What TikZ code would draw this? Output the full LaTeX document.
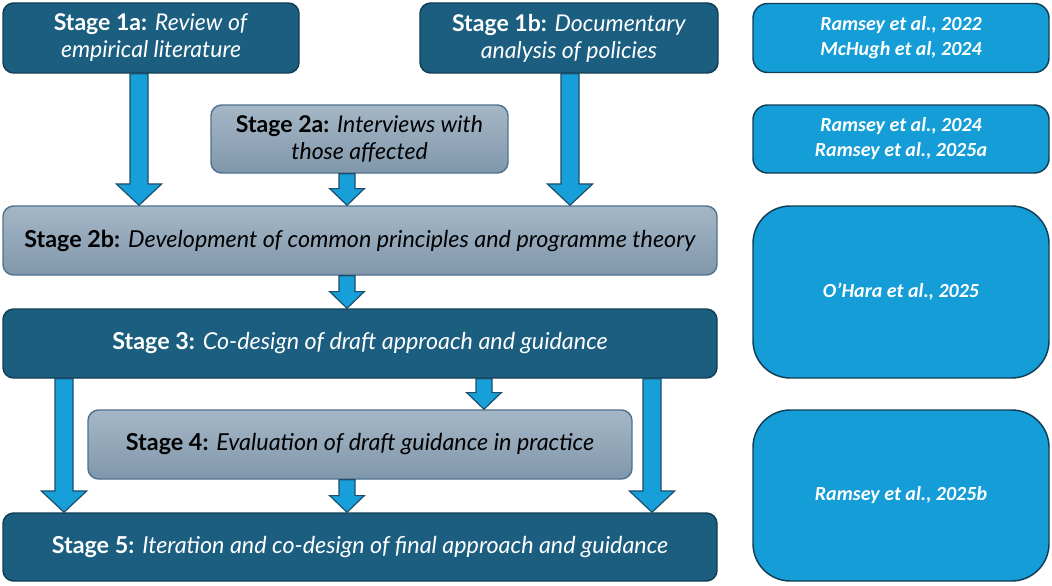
\documentclass[tikz,border=0pt]{standalone}
\usepackage{fontspec}
\setmainfont{Lato}
\newfontfamily\citefont{Carlito}
\usetikzlibrary{calc}
\definecolor{darkfill}{HTML}{1B5E80}
\definecolor{darkline}{HTML}{123E55}
\definecolor{lighttop}{HTML}{A5B7C6}
\definecolor{lightbot}{HTML}{8097AB}
\definecolor{lightline}{HTML}{4F7390}
\definecolor{citefill}{HTML}{149DD7}
\definecolor{arrowfill}{HTML}{169FD9}
\definecolor{arrowline}{HTML}{1F4E6B}
% #1 x (px), #2 source node, #3 target node, #4 shaft half width, #5 head half width, #6 head length
\newcommand\blockarrow[6]{%
  \draw[barrow] let \p1=(#1,0), \p2=(#2.south), \p3=(#3.north) in
    (\x1-#4,\y2) -- (\x1-#4,\y3+#6) -- (\x1-#5,\y3+#6) -- (\x1,\y3)
    -- (\x1+#5,\y3+#6) -- (\x1+#4,\y3+#6) -- (\x1+#4,\y2) -- cycle;}
\begin{document}
\begin{tikzpicture}[x=0.75pt,y=-0.75pt,
  box/.style={rounded corners=8pt, line width=1.1pt, inner sep=0pt, align=center},
  darkbox/.style={box, draw=darkline, fill=darkfill, text=white},
  lightbox/.style={box, draw=lightline, top color=lighttop, bottom color=lightbot, text=black},
  citebox/.style={box, draw=darkline, fill=citefill, text=white,
    font=\citefont\bfseries\itshape\fontsize{15}{18.75}\selectfont, minimum width=222pt},
  wide/.style={font=\fontsize{17.3}{20.25}\selectfont},
  narrow/.style={font=\fontsize{17.5}{20}\selectfont},
  barrow/.style={draw=arrowline, fill=arrowfill, line width=0.9pt, line join=miter}
]
\fill[white] (0,0) rectangle (1052,585);
\useasboundingbox (0,0) rectangle (1052,585);

\node[darkbox, wide, minimum width=222pt, minimum height=52.5pt] (s1a) at (151,38)
  {\textbf{Stage 1a:} \textit{Review of}\\ \textit{empirical literature}};
\node[darkbox, wide, minimum width=223.5pt, minimum height=52.5pt] (s1b) at (569,38)
  {\textbf{Stage 1b:} \textit{Documentary}\\ \textit{analysis of policies}};
\node[lightbox, wide, minimum width=222.75pt, minimum height=51pt] (s2a) at (359.5,139)
  {\textbf{Stage 2a:} \textit{Interviews with}\\ \textit{those affected}};
\node[lightbox, narrow, minimum width=535.5pt, minimum height=51.75pt] (s2b) at (360,240.5)
  {\textbf{Stage 2b:} \textit{Development of common principles and programme theory}};
\node[darkbox, narrow, minimum width=535.5pt, minimum height=51.75pt] (s3) at (360,343.5)
  {\textbf{Stage 3:} \textit{Co-design of draft approach and guidance}};
\node[lightbox, narrow, minimum width=408pt, minimum height=51.75pt] (s4) at (360,444.5)
  {\textbf{Stage 4:} \textit{Evaluation of draft guidance in practice}};
\node[darkbox, narrow, minimum width=535.5pt, minimum height=51pt] (s5) at (360,547)
  {\textbf{Stage 5:} \textit{Iteration and co-design of final approach and guidance}};

\node[citebox, rounded corners=11pt, minimum height=51.75pt] (r1) at (901,38)
  {Ramsey et al., 2022\\ McHugh et al, 2024};
\node[citebox, rounded corners=11pt, minimum height=51pt] (r2) at (901,139)
  {Ramsey et al., 2024\\ Ramsey et al., 2025a};
\node[citebox, rounded corners=28pt, minimum height=129pt] (r3) at (901,292)
  {O’Hara et al., 2025};
\node[citebox, rounded corners=28pt, minimum height=128.25pt] (r4) at (901,495.5)
  {Ramsey et al., 2025b};

\blockarrow{139}{s1a}{s2b}{6.75pt}{17pt}{16pt}
\blockarrow{570}{s1b}{s2b}{6.75pt}{17pt}{16pt}
\blockarrow{347}{s2a}{s2b}{6pt}{13pt}{12.5pt}
\blockarrow{347}{s2b}{s3}{6pt}{13pt}{12.5pt}
\blockarrow{64}{s3}{s5}{6.75pt}{17pt}{16pt}
\blockarrow{484}{s3}{s4}{6pt}{13pt}{12.5pt}
\blockarrow{652}{s3}{s5}{6.75pt}{17pt}{16pt}
\blockarrow{347}{s4}{s5}{6pt}{13pt}{12.5pt}
\end{tikzpicture}
\end{document}
